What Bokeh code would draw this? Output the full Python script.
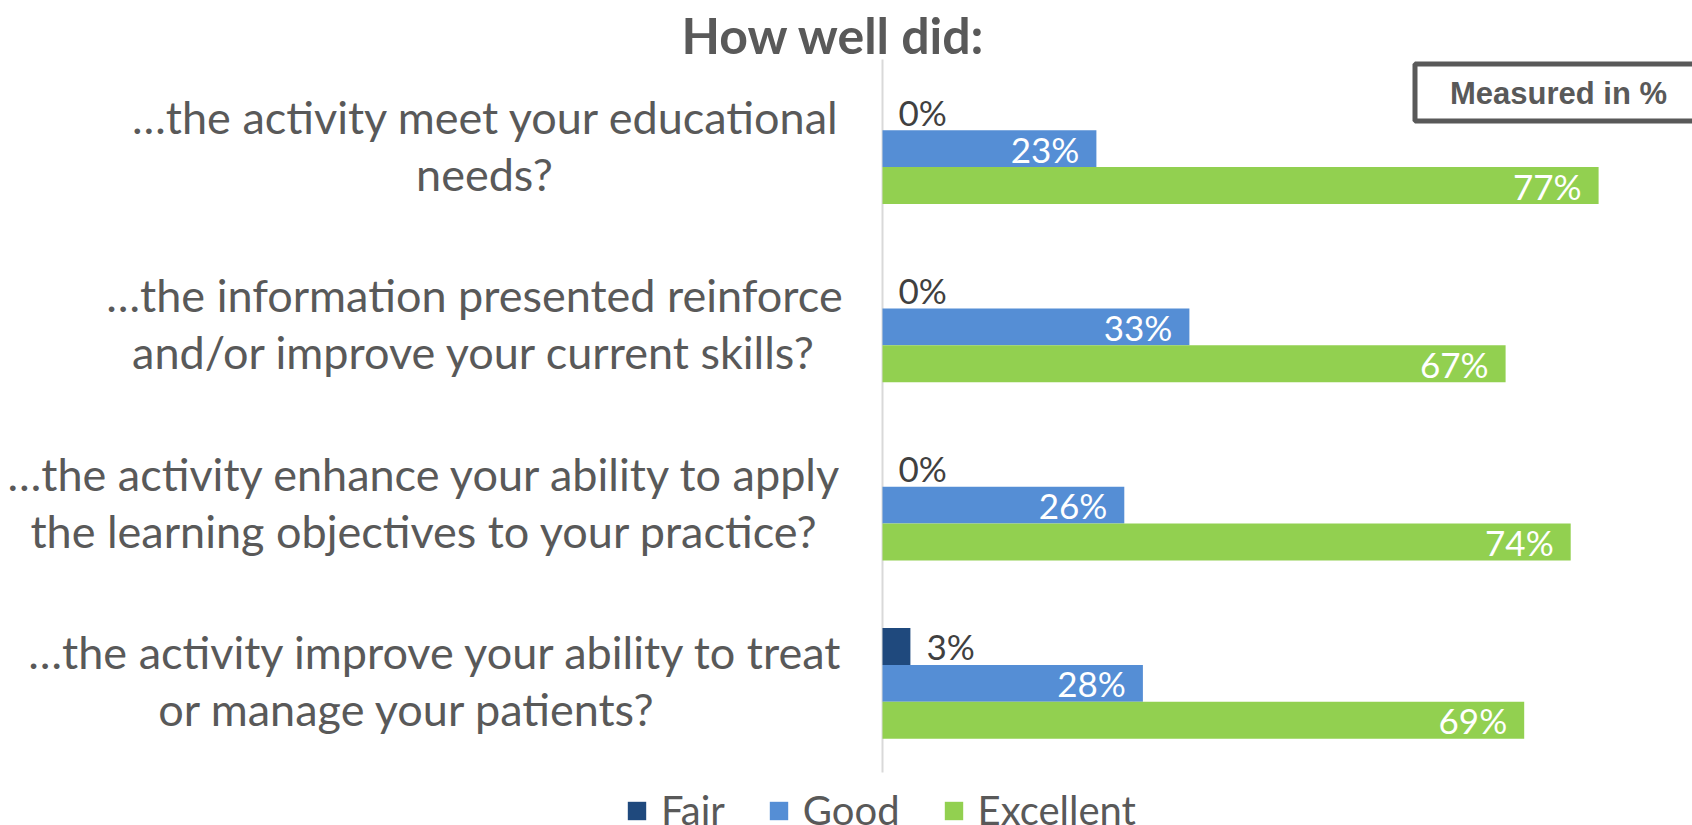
from bokeh.plotting import figure
from bokeh.models import FactorRange, ColumnDataSource, Label, BoxAnnotation, Legend, LegendItem
from bokeh.transform import dodge
from bokeh.core.properties import value
from bokeh.embed import file_html
from bokeh.resources import INLINE

# ---------------- data ----------------
categories = [
    "…the activity meet your educational\nneeds?",
    "…the information presented reinforce\nand/or improve your current skills?",
    "…the activity enhance your ability to apply\nthe learning objectives to your practice?",
    "…the activity improve your ability to treat\nor manage your patients?",
]
series = ["Fair", "Good", "Excellent"]
fair = [0, 0, 0, 3]
good = [23, 33, 26, 28]
excellent = [77, 67, 74, 69]

title_text = "How well did:"
note_text = "Measured in %"

# ---------------- style / layout ----------------
COLORS = {"Fair": "#1F497D", "Good": "#558ED5", "Excellent": "#92D050"}
TEXT = "#595959"
FONT = "Lato"
W, H = 1692, 825
TOP = 6                    # canvas px above the frame
AXIS_X = 882               # page px of the value axis
PX_PER_PCT = 9.30
BLOCK_TOP, BLOCK_BOTTOM = 59, 772
n = len(categories)
cat_px = (BLOCK_BOTTOM - BLOCK_TOP) / n
frame_h = H - TOP
pad_frac = (frame_h - (BLOCK_BOTTOM - BLOCK_TOP)) / (BLOCK_BOTTOM - BLOCK_TOP)

p = figure(width=W, height=H, output_backend="svg", toolbar_location=None,
           y_range=FactorRange(factors=list(reversed(categories)),
                               range_padding=pad_frac, range_padding_units="percent"),
           x_range=(-AXIS_X / PX_PER_PCT, (W - AXIS_X) / PX_PER_PCT),
           min_border_left=0, min_border_right=0,
           min_border_top=TOP, min_border_bottom=0)
p.outline_line_color = None
p.grid.visible = False
p.axis.visible = False
p.background_fill_color = None
p.border_fill_color = "white"

# value axis line
p.segment(x0=[0], y0=[0], x1=[0], y1=[n], line_color="#D9D9D9", line_width=2)

src = ColumnDataSource(dict(
    cat=categories, Fair=fair, Good=good, Excellent=excellent,
    Fair_t=[f"{v}%" for v in fair],
    Good_t=[f"{v}%" for v in good],
    Excellent_t=[f"{v}%" for v in excellent],
))

BAR_H = 0.207
offsets = {"Fair": BAR_H, "Good": 0.0, "Excellent": -BAR_H}
renderers = {}
for s in series:
    r = p.hbar(y=dodge("cat", offsets[s], range=p.y_range), right=s, left=0,
               height=BAR_H, color=COLORS[s], line_color=None, source=src)
    renderers[s] = r
    if s == "Fair":
        p.text(x=s, y=dodge("cat", offsets[s], range=p.y_range), text=s + "_t",
               source=src, x_offset=16, text_align="left", text_baseline="middle",
               text_color="#404040", text_font=value(FONT), text_font_size="35px")
    else:
        p.text(x=s, y=dodge("cat", offsets[s], range=p.y_range), text=s + "_t",
               source=src, x_offset=-17, text_align="right", text_baseline="middle",
               text_color="white", text_font=value(FONT), text_font_size="35px")

# category labels (two centred lines each)
line_centers = [(486, 484), (474, 474), (425, 424), (436, 407)]   # page px
for i, c in enumerate(categories):
    l1, l2 = c.split("\n")
    yc = n - 0.5 - i
    for txt, cx, dy in ((l1, line_centers[i][0], 31.5), (l2, line_centers[i][1], -25.5)):
        p.add_layout(Label(x=0, y=yc, x_offset=cx - AXIS_X, y_offset=dy, text=txt,
                           text_align="center", text_baseline="middle",
                           text_color=TEXT, text_font=FONT, text_font_size="45px"))

# title
p.add_layout(Label(x=0, y=n, x_offset=833 - AXIS_X, y_offset=BLOCK_TOP - 34, text=title_text,
                   text_align="center", text_baseline="middle", text_color=TEXT,
                   text_font=FONT, text_font_style="bold", text_font_size="50px"))

# "Measured in %" box
p.add_layout(BoxAnnotation(left=(1414.5 - AXIS_X) / PX_PER_PCT, right=(W + 20 - AXIS_X) / PX_PER_PCT,
                           top=n + (BLOCK_TOP - 63.5) / cat_px, bottom=n - (120.5 - BLOCK_TOP) / cat_px,
                           fill_color=None, fill_alpha=0, line_color=TEXT, line_alpha=1, line_width=5))
p.add_layout(Label(x=0, y=n, x_offset=1558 - AXIS_X, y_offset=BLOCK_TOP - 92.5, text=note_text,
                   text_align="center", text_baseline="middle", text_color=TEXT,
                   text_font="Liberation Sans", text_font_style="bold", text_font_size="31px"))

legend = Legend(items=[LegendItem(label=s, renderers=[renderers[s]]) for s in series],
                orientation="horizontal", location=(625, -9),
                glyph_width=23, glyph_height=23, label_standoff=13, spacing=42,
                padding=0, margin=0, border_line_color=None, background_fill_alpha=0,
                label_text_font=FONT, label_text_font_size="40px", label_text_color=TEXT)
p.add_layout(legend)

open("out.html", "w").write(file_html(p, INLINE))
